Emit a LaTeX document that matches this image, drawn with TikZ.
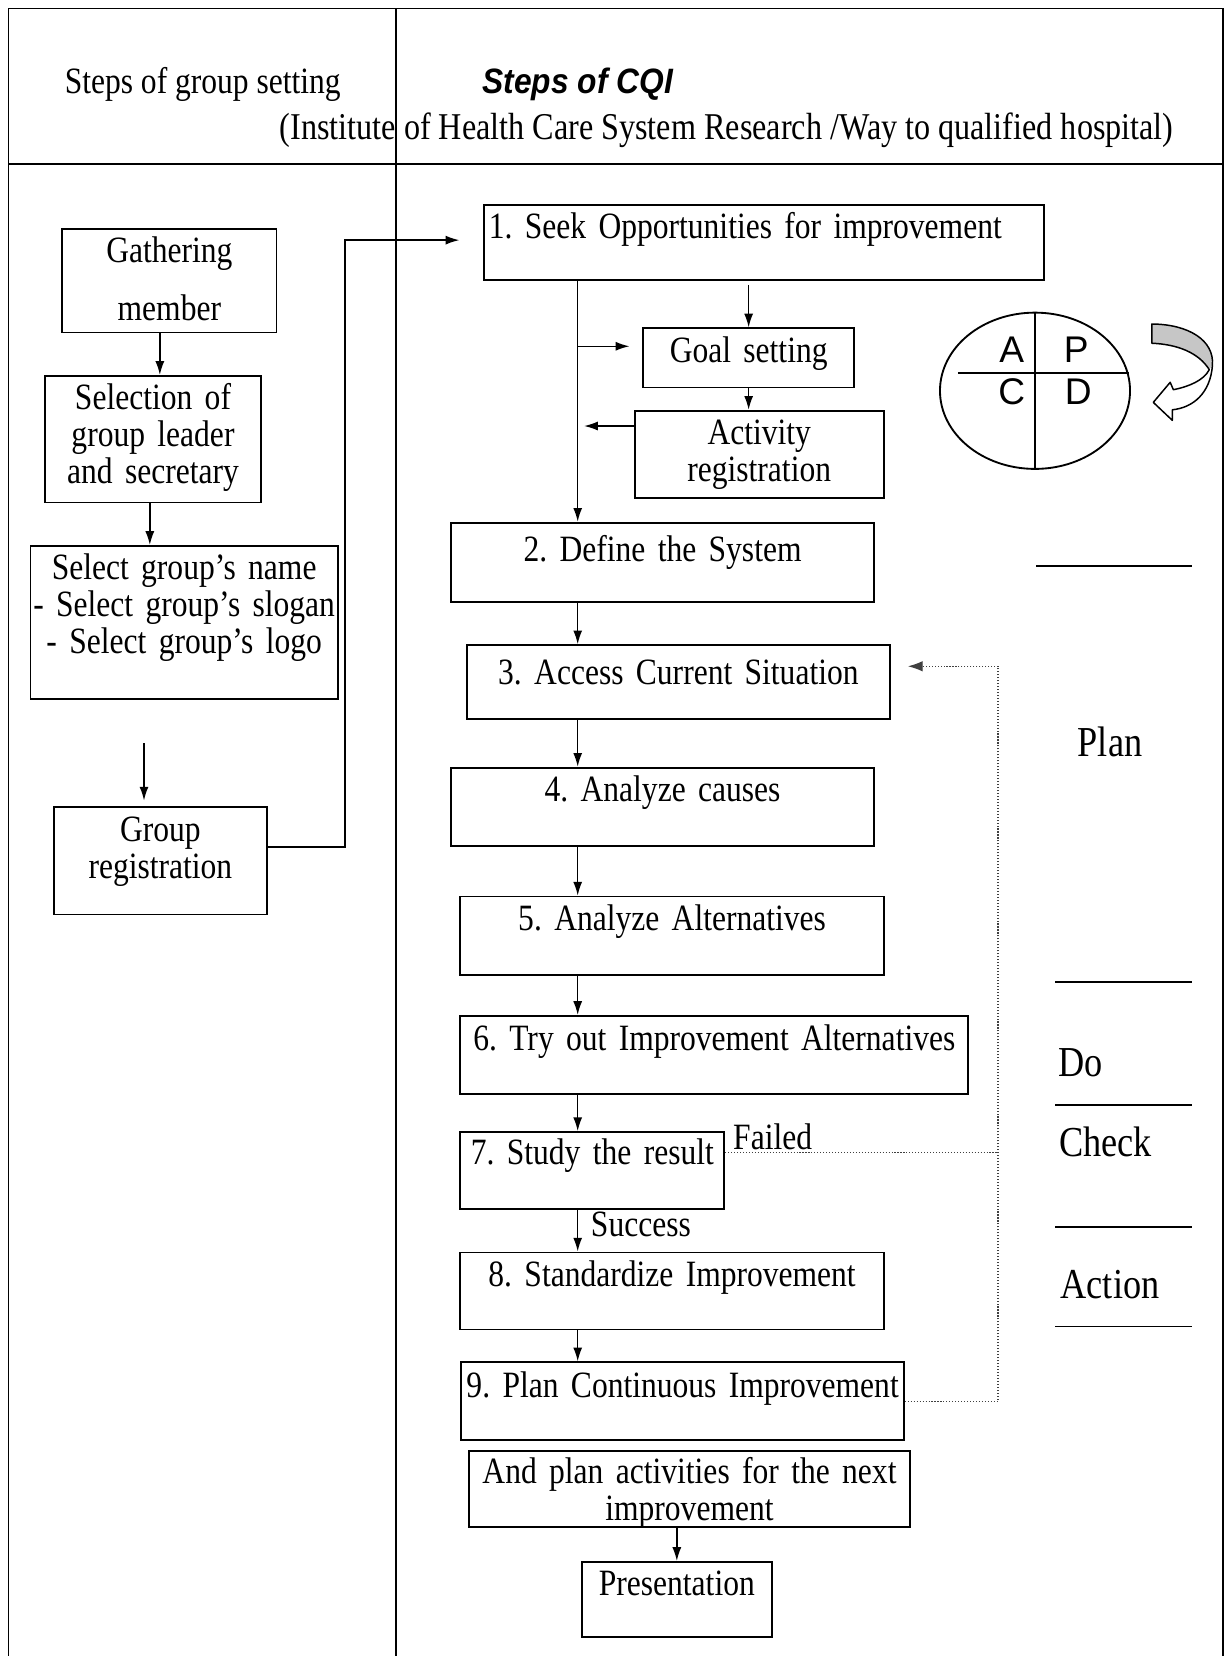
\documentclass[tikz,border=0pt]{standalone}
\usepackage{fontspec}
\setmainfont{Liberation Serif}[FakeStretch=0.85]
\newfontfamily\headsans{Liberation Sans}[FakeStretch=0.9]
\newfontfamily\pdcasans{Liberation Sans}
\usepackage{tikz}
\usetikzlibrary{shapes,arrows.meta,calc}
\tikzstyle{line} = [draw, line width=0.8pt, -{Latex[length=2.6mm,width=1.7mm]}]
\tikzstyle{fdline} = [draw, densely dotted, line width=0.6pt, black!75]
\tikzstyle{fdback} = [fdline, -{Latex[length=2.8mm,width=2mm]}]
\tikzstyle{block} = [draw, rectangle, line width=1pt, anchor=north west, inner sep=0pt, align=center]
\tikzstyle{frameline} = [line width=1pt]
\tikzstyle{phaserule} = [line width=1pt]
\tikzstyle{phaselbl} = [font=\fontsize{23}{24}\selectfont]
\tikzstyle{pdcaletter} = [font=\pdcasans\fontsize{20}{20}\selectfont]

\begin{document}
\begin{tikzpicture}[x=0.02cm, y=-0.02cm, font=\fontsize{20}{20}\selectfont\frenchspacing]
\useasboundingbox (0,0) rectangle (1162,1568);

% table
\draw[frameline] (8,1568) -- (8,8) -- (1158,8) -- (1158,1568);
\draw[frameline] (8,155) -- (1158,155);
\draw[frameline] (375,8) -- (375,1568);
\node (head1) at (192,80) {Steps of group setting};
\node (head2) at (547,80) {\headsans\bfseries\itshape\fontsize{19}{20}\selectfont Steps of CQI};
\node (head3) at (688,123) {\fontsize{20.4}{20}\selectfont (Institute of Health Care System Research /Way to qualified hospital)};

% group setting
\node[block, text width=4.06cm, text height=0.64cm, text depth=1.32cm] (gather) at (58,216) {Gathering\\[0.38cm]member};
\node[block, text width=4.08cm, text height=0.64cm, text depth=1.76cm] (selection) at (42,355) {Selection of\\group leader\\and secretary};
\node[block, text width=5.82cm, text height=0.64cm, text depth=2.26cm] (naming) at (28,516) {Select group's name\\- Select group's slogan\\- Select group's logo};
\node[block, text width=4.04cm, text height=0.66cm, text depth=1.38cm] (groupreg) at (50,763) {Group\\registration};

% CQI steps
\node[block, align=left, text width=10.62cm, text height=0.64cm, text depth=0.78cm] (seek) at (457,193) {\hspace*{0.1cm}1. Seek Opportunities for improvement};
\node[block, text width=4cm, text height=0.64cm, text depth=0.48cm] (goal) at (608,310) {Goal setting};
\node[block, text width=4.72cm, text height=0.64cm, text depth=1.02cm] (activity) at (600,388) {Activity\\registration};
\node[block, text width=8.02cm, text height=0.74cm, text depth=0.76cm] (define) at (426,494) {2. Define the System};
\node[block, text width=8.02cm, text height=0.74cm, text depth=0.66cm] (access) at (441,610) {3. Access Current Situation};
\node[block, text width=8.02cm, text height=0.64cm, text depth=0.84cm] (causes) at (426,726) {4. Analyze causes};
\node[block, text width=8.02cm, text height=0.64cm, text depth=0.84cm] (alternatives) at (435,848) {5. Analyze Alternatives};
\node[block, text width=9.62cm, text height=0.66cm, text depth=0.82cm] (tryout) at (435,961) {6. Try out Improvement Alternatives};
\node[block, text width=5cm, text height=0.62cm, text depth=0.84cm] (study) at (435,1071) {7. Study the result};
\node[block, text width=8.02cm, text height=0.64cm, text depth=0.82cm] (standard) at (435,1185) {8. Standardize Improvement};
\node[block, text width=8.38cm, text height=0.66cm, text depth=0.82cm] (continuous) at (436,1289) {9. Plan Continuous Improvement};
\node[block, text width=8.36cm, text height=0.62cm, text depth=0.82cm] (nextplan) at (443,1373) {And plan activities for the next\\improvement};
\node[block, text width=3.6cm, text height=0.64cm, text depth=0.78cm] (presentation) at (550,1478) {Presentation};
\coordinate (spine) at (547,0);
\coordinate (back) at (945,0);

% arrows of the group column
\path[line] ($(gather.south)+(-9,0)$) -- ($(gather.south |- selection.north)+(-9,0)$);
\path[line] ($(selection.south)+(-3,0)$) -- ($(selection.south |- naming.north)+(-3,0)$);
\path[line] ($(naming.south)+(-38,41)$) -- ($(naming.south |- groupreg.north)+(-38,-5)$);
\path[line] ($(groupreg.east)+(0,-13)$) -- ++(73,0) |- ($(seek.west)+(-22,-2)$);

% arrows of the CQI column
\path[line] (seek.south -| spine) -- (define.north -| spine);
\path[line] ($(goal.north |- seek.south)+(0,4)$) -- (goal.north);
\path[line] ($(goal.west -| spine)+(0,-11)$) -- ($(goal.west)+(-12,-11)$);
\path[line] (goal.south) -- (goal.south |- activity.north);
\path[line] ($(activity.west)+(0,-27)$) -- ($(activity.west -| spine)+(6,-27)$);
\path[line] (define.south -| spine) -- (access.north -| spine);
\path[line] (access.south -| spine) -- (causes.north -| spine);
\path[line] (causes.south -| spine) -- (alternatives.north -| spine);
\path[line] (alternatives.south -| spine) -- (tryout.north -| spine);
\path[line] (tryout.south -| spine) -- (study.north -| spine);
\path[line] (study.south -| spine) -- node[right=0.12cm, pos=0.35] (success) {Success} (standard.north -| spine);
\path[line] (standard.south -| spine) -- (continuous.north -| spine);
\path[line] (presentation.north |- nextplan.south) -- (presentation.north);

% feedback loop
\path[fdback] (continuous.east) -- (continuous.east -| back) |- ($(access.east)+(16,-15)$);
\path[fdline] ($(study.east)+(0,-17)$) -- node[pos=0, above right, text=black, inner xsep=4pt, inner ysep=1pt] (failed) {Failed} ($(study.east -| back)+(0,-17)$);

% PDCA wheel
\node[draw, ellipse, line width=1pt, minimum width=3.6cm, minimum height=2.96cm, inner sep=0pt] (pdca) at (980,370) {};
\draw[line width=1pt] (pdca.north) -- (pdca.south);
\draw[line width=1pt] ($(pdca.center)+(-73,-17)$) -- ($(pdca.center)+(89,-17)$);
\node[pdcaletter] (letterA) at (958,331) {A};
\node[pdcaletter] (letterP) at (1019,331) {P};
\node[pdcaletter] (letterC) at (958,371) {C};
\node[pdcaletter] (letterD) at (1021,371) {D};
\fill[gray!45] (1090.6,306.8) .. controls (1125,307) and (1150,322) .. (1148,346) -- (1145,350) .. controls (1135,334) and (1115,326) .. (1090.6,325) -- cycle;
\draw[line width=0.8pt, line join=round] (1090.6,306.8) .. controls (1125,307) and (1150,322) .. (1148,346) .. controls (1146,372) and (1130,386) .. (1110,388) -- (1110,398) -- (1092,381) -- (1108,362) -- (1111,369) .. controls (1126,366) and (1140,360) .. (1145,350) .. controls (1135,334) and (1115,326) .. (1090.6,325) -- cycle;

% phases
\draw[phaserule] (981,536) -- (1129,536);
\node[phaselbl] (plan) at (1051,702) {Plan};
\draw[phaserule] (999,930) -- (1129,930);
\node[phaselbl] (do) at (1023,1006) {Do};
\draw[phaserule] (999,1046) -- (1129,1046);
\node[phaselbl] (check) at (1047,1081) {Check};
\draw[phaserule] (999,1162) -- (1129,1162);
\node[phaselbl] (action) at (1051,1216) {Action};
\draw[phaserule] (999,1256) -- (1129,1256);
\end{tikzpicture}
\end{document}
